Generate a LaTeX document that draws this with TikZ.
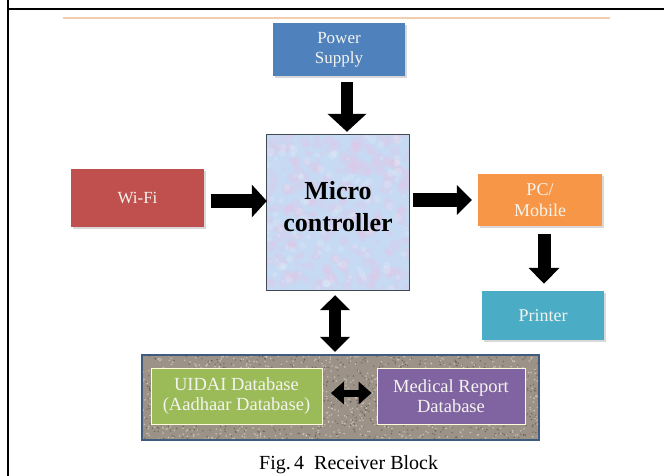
\documentclass[tikz,border=0pt]{standalone}
\usepackage{fontspec}
\setmainfont{Liberation Serif}
\usetikzlibrary{arrows.meta,shadows}
\definecolor{psblue}{HTML}{4F81BD}
\definecolor{wfred}{HTML}{C0504D}
\definecolor{pcorange}{HTML}{F79646}
\definecolor{prteal}{HTML}{4BACC6}
\definecolor{dbgreen}{HTML}{9BBB59}
\definecolor{dbpurple}{HTML}{8064A2}
\definecolor{contedge}{HTML}{3E5C80}
\definecolor{gravbase}{HTML}{9C9287}
\definecolor{gravdark}{HTML}{5E564E}
\definecolor{gravlight}{HTML}{D3CBBF}
\definecolor{mcbase}{HTML}{C6DAF3}
\definecolor{mcpink}{HTML}{E3C6E6}
\definecolor{mcedge}{HTML}{404850}
\definecolor{topline}{HTML}{F2CDB0}
\definecolor{boxtext}{HTML}{F4F4EE}
\tikzset{
  box/.style={rectangle, inner sep=0pt, align=center, text=boxtext,
    font=\fontsize{17}{20}\selectfont},
  dbbox/.style={box, draw=white!85!yellow, line width=0.8pt,
    font=\fontsize{18.5}{20}\selectfont},
  shadowed/.style={drop shadow={shadow xshift=1.5pt, shadow yshift=-2pt, opacity=0.3}},
  rarrow/.style={draw=black, line width=14pt, -{Triangle[length=15pt,width=32pt]}},
  rarrowb/.style={draw=black, line width=14pt, -{Triangle[length=15pt,width=29pt]}},
  dnarrow/.style={draw=black, line width=12pt, -{Triangle[length=18pt,width=38pt]}},
  dnarrowb/.style={draw=black, line width=13pt, -{Triangle[length=16pt,width=30pt]}},
  dblarrow/.style={draw=black, line width=12pt,
    {Triangle[length=15pt,width=29pt]}-{Triangle[length=15pt,width=29pt]}},
  smalldbl/.style={draw=black, line width=7pt,
    {Triangle[length=13pt,width=22pt]}-{Triangle[length=13pt,width=22pt]}},
  mctext/.style={align=center, inner sep=0pt, text=black,
    font=\fontsize{26}{32}\selectfont\bfseries}
}
\begin{document}
\begin{tikzpicture}[x=1pt,y=-1pt]
\useasboundingbox (0,0) rectangle (664,476);
\fill[white] (0,0) rectangle (664,476);
% frame
\draw[line width=2.3pt] (8.3,0) -- (8.3,476);
\draw[line width=2.3pt] (8.3,9) -- (664,9);
\draw[topline, line width=1.4pt] (63,18) -- (610,18);

% boxes
\node[box, fill=psblue, minimum width=132pt, minimum height=53pt, shadowed] (power) at (339,49.5) {Power\\Supply};
\node[box, fill=wfred, minimum width=133pt, minimum height=58pt, shadowed] (wifi) at (137.5,198) {Wi-Fi};
\node[box, fill=pcorange, minimum width=124pt, minimum height=52pt, shadowed, font=\fontsize{18}{21}\selectfont] (pc) at (540,200) {PC/\\Mobile};
\node[box, fill=prteal, minimum width=122pt, minimum height=49pt, shadowed, font=\fontsize{18}{21}\selectfont] (printer) at (543,315.5) {Printer};

% microcontroller
\node[rectangle, fill=mcbase, minimum width=142pt, minimum height=155pt, inner sep=0pt] (mc) at (338,212.5) {};
\pgfmathsetseed{4242}
\begin{scope}
  \clip (mc.north west) rectangle (mc.south east);
  \foreach \i in {1,...,300}{
    \pgfmathsetmacro{\px}{267+142*rnd}
    \pgfmathsetmacro{\py}{135+155*rnd}
    \pgfmathsetmacro{\pr}{2+4*rnd}
    \fill[mcpink, opacity=0.3] (\px,\py) circle (\pr pt);
  }
  \foreach \i in {1,...,120}{
    \pgfmathsetmacro{\px}{267+142*rnd}
    \pgfmathsetmacro{\py}{135+155*rnd}
    \pgfmathsetmacro{\pr}{1.5+3*rnd}
    \fill[white, opacity=0.15] (\px,\py) circle (\pr pt);
  }
\end{scope}
\draw[mcedge, line width=0.9pt] (mc.north west) rectangle (mc.south east);
\node[mctext] (mclabel) at ([yshift=6pt]mc.center) {Micro\\controller};

% database container
\node[rectangle, fill=gravbase, minimum width=397pt, minimum height=85pt, inner sep=0pt] (cont) at (340.5,397.5) {};
\begin{scope}
  \clip (cont.north west) rectangle (cont.south east);
  \foreach \i in {1,...,900}{
    \pgfmathsetmacro{\px}{142+397*rnd}
    \pgfmathsetmacro{\py}{355+85*rnd}
    \fill[gravdark, opacity=0.7] (\px,\py) circle (0.8pt);
  }
  \foreach \i in {1,...,900}{
    \pgfmathsetmacro{\px}{142+397*rnd}
    \pgfmathsetmacro{\py}{355+85*rnd}
    \fill[gravlight, opacity=0.8] (\px,\py) circle (0.9pt);
  }
\end{scope}
\draw[contedge, line width=2pt] (cont.north west) rectangle (cont.south east);
\node[dbbox, fill=dbgreen, minimum width=171pt, minimum height=56pt] (uidai) at (236.5,396) {UIDAI Database\\(Aadhaar Database)};
\node[dbbox, fill=dbpurple, minimum width=148pt, minimum height=56pt] (medical) at (451,396) {Medical Report\\Database};

% connectors
\draw[dnarrow] ([xshift=8pt,yshift=-6pt]power.south) -- ([xshift=9pt,yshift=3pt]mc.north);
\coordinate (wa) at ([xshift=7pt,yshift=-3pt]wifi.east);
\draw[rarrow] (wa) -- (wa -| mc.west);
\coordinate (pa) at ([xshift=-6pt]pc.west);
\coordinate (pb) at ([xshift=4pt]mc.east);
\draw[rarrowb] (pb |- pa) -- (pa);
\draw[dnarrowb] ([xshift=4pt,yshift=-8pt]pc.south) -- ([xshift=1pt,yshift=7pt]printer.north);
\draw[dblarrow] ([xshift=-3pt,yshift=-5pt]mc.south) -- ([xshift=-5.5pt,yshift=3pt]cont.north);
\draw[smalldbl] ([xshift=8.5pt,yshift=3pt]uidai.east) -- ([xshift=-5pt,yshift=3pt]medical.west);

% caption
\node[anchor=base west, inner sep=0pt, font=\fontsize{20}{24}\selectfont] (caption) at (259,469.5) {Fig.\,4~~Receiver Block};
\end{tikzpicture}
\end{document}
